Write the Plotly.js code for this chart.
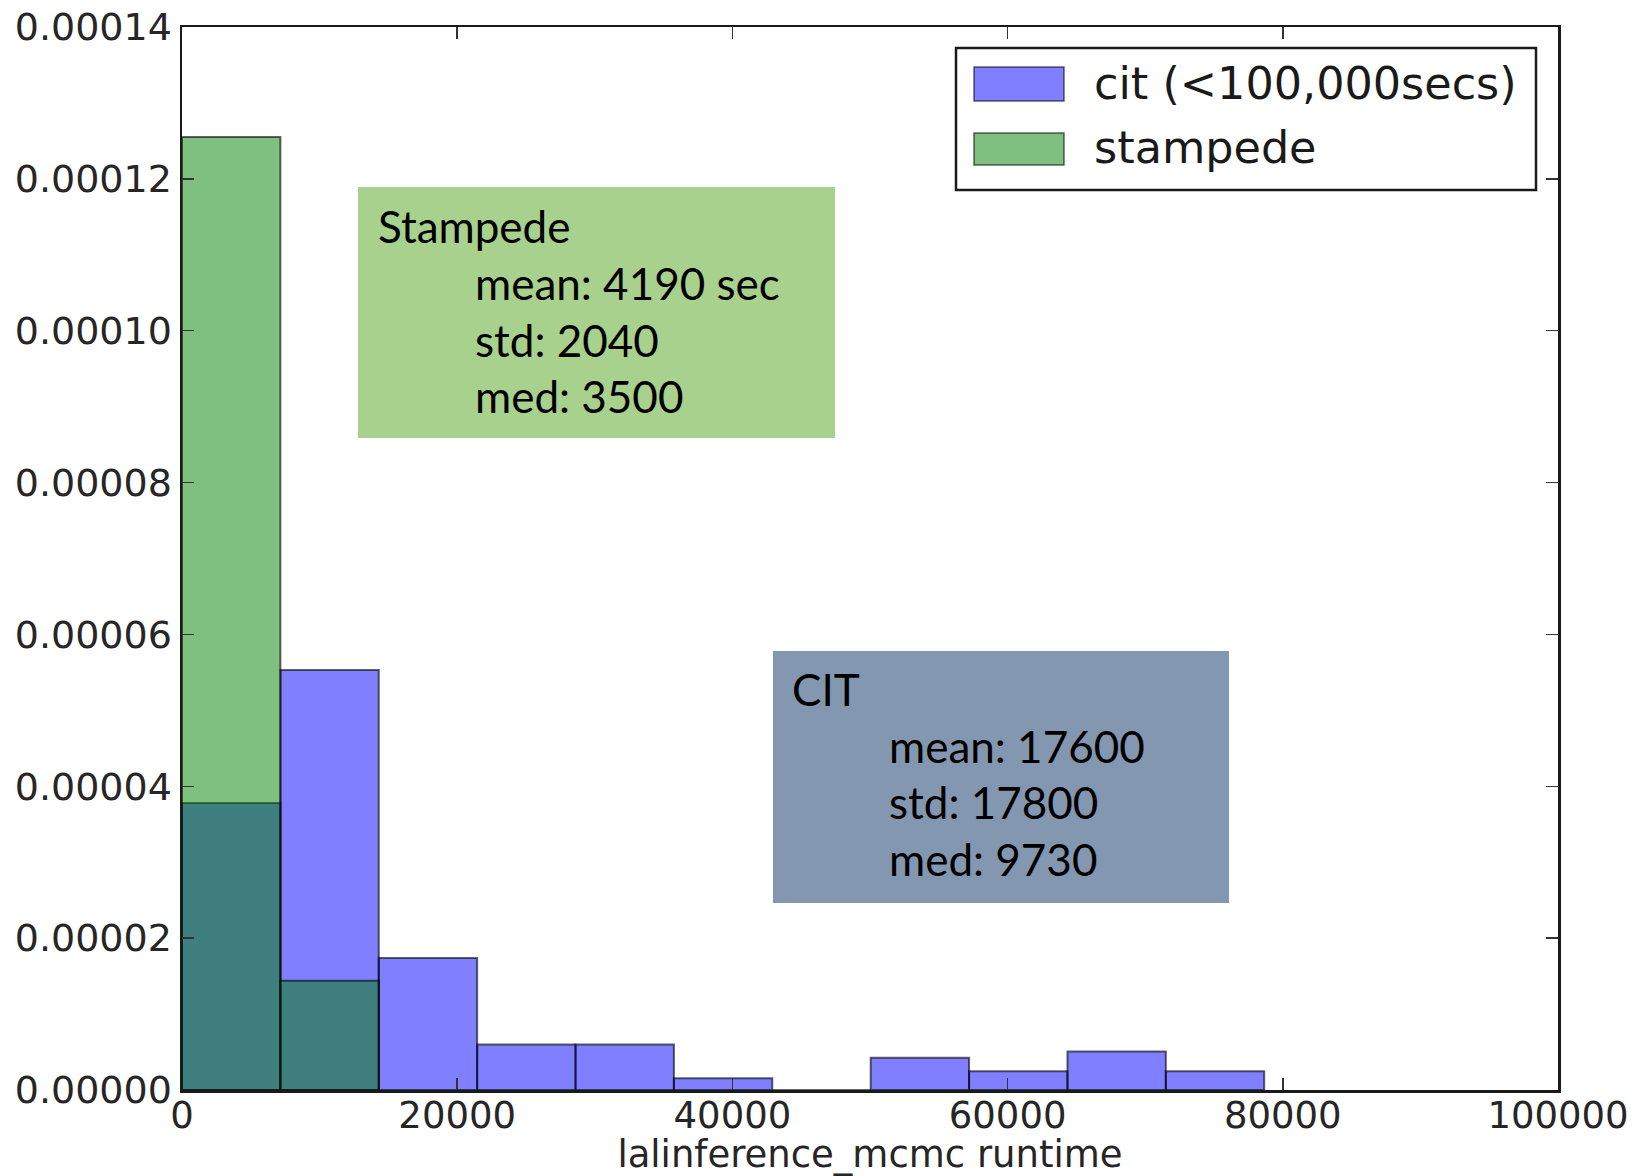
<!DOCTYPE html>
<html>
<head>
<meta charset="utf-8">
<script src="https://cdn.plot.ly/plotly-3.0.1.min.js"></script>
<style>
  html, body { margin: 0; padding: 0; background: #ffffff; }
  #chart { width: 1641px; height: 1176px; }
</style>
</head>
<body>
<div id="chart"></div>
<script>
// Histogram bin edges (seconds), shared by both clusters
const binEdges = [0, 7150, 14300, 21450, 28600, 35750, 42900, 50050, 57200, 64350, 71500, 78650];

// Normalised densities per bin
const citDensity = [3.78e-5, 5.53e-5, 1.74e-5, 6.0e-6, 6.0e-6, 1.55e-6, 0, 4.24e-6, 2.48e-6, 5.07e-6, 2.48e-6];
const stampedeDensity = [1.255e-4, 1.44e-5];

// Series names
const seriesNames = ['cit (<100,000secs)', 'stampede'];

// Summary statistics shown in the text boxes
const stampedeStats = ['Stampede', 'mean: 4190 sec', 'std: 2040', 'med: 3500'];
const citStats = ['CIT', 'mean: 17600', 'std: 17800', 'med: 9730'];

// Axis ticks
const xTicks = [0, 20000, 40000, 60000, 80000, 100000];
const yTicks = [0, 0.00002, 0.00004, 0.00006, 0.00008, 0.0001, 0.00012, 0.00014];
const xTitle = 'lalinference_mcmc runtime';

// Page geometry
const PAGE_W = 1641, PAGE_H = 1176;
const M = { l: 182, r: 83, t: 27, b: 86 };
const PW = PAGE_W - M.l - M.r, PH = PAGE_H - M.t - M.b;
const fx = p => (p - M.l) / PW;              // pixel x -> paper x
const fy = p => (PAGE_H - M.b - p) / PH;     // pixel y -> paper y

function binsFor(values) {
  const centers = [], widths = [];
  values.forEach((_, i) => {
    centers.push((binEdges[i] + binEdges[i + 1]) / 2);
    widths.push(binEdges[i + 1] - binEdges[i]);
  });
  return { centers, widths };
}

const citBins = binsFor(citDensity);
const stBins = binsFor(stampedeDensity);

const BLUE = 'rgba(0,0,255,0.5)';
const GREEN = 'rgba(0,128,0,0.5)';
const EDGE = 'rgba(0,0,0,0.6)';

const traces = [
  {
    type: 'bar', name: seriesNames[0],
    x: citBins.centers, y: citDensity, width: citBins.widths,
    marker: { color: BLUE, line: { color: EDGE, width: 2 } },
    showlegend: false, hoverinfo: 'x+y'
  },
  {
    type: 'bar', name: seriesNames[1],
    x: stBins.centers, y: stampedeDensity, width: stBins.widths,
    marker: { color: GREEN, line: { color: EDGE, width: 2 } },
    showlegend: false, hoverinfo: 'x+y'
  }
];

const xTickFont = { family: 'DejaVu Sans', size: 37, color: '#262626' };
const yTickFont = { family: 'DejaVu Sans', size: 38, color: '#262626' };
const boxFont = { family: 'Lato', size: 44, color: '#000000' };

const shapes = [];
const annotations = [];

// Legend frame and swatches
shapes.push({ type: 'rect', xref: 'paper', yref: 'paper',
  x0: fx(956), x1: fx(1536), y0: fy(190), y1: fy(48),
  line: { color: '#1a1a1a', width: 2.5 }, fillcolor: '#ffffff' });
[[BLUE, 67, 101], [GREEN, 133, 165]].forEach(([c, top, bot]) => {
  shapes.push({ type: 'rect', xref: 'paper', yref: 'paper',
    x0: fx(974), x1: fx(1064), y0: fy(bot), y1: fy(top),
    line: { color: EDGE, width: 1.5 }, fillcolor: c });
});
[[seriesNames[0], 84], [seriesNames[1], 148]].forEach(([t, cy]) => {
  annotations.push({ xref: 'paper', yref: 'paper', x: fx(1092), y: fy(cy),
    xanchor: 'left', yanchor: 'middle', showarrow: false, text: t,
    font: { family: 'DejaVu Sans', size: 44.5, color: '#1a1a1a' } });
});

// Statistic boxes
function statBox(lines, x0, x1, y0, y1, fill, textX, indentX, centers) {
  shapes.push({ type: 'rect', xref: 'paper', yref: 'paper',
    x0: fx(x0), x1: fx(x1), y0: fy(y1), y1: fy(y0),
    line: { width: 0 }, fillcolor: fill });
  lines.forEach((t, i) => {
    annotations.push({ xref: 'paper', yref: 'paper',
      x: fx(i === 0 ? textX : indentX), y: fy(centers[i]),
      xanchor: 'left', yanchor: 'middle', showarrow: false, text: t, font: boxFont });
  });
}
statBox(stampedeStats, 358, 835, 187, 438, '#a9d18e', 376, 473, [226, 283, 340, 396]);
statBox(citStats, 773, 1229, 651, 903, '#8497b0', 790, 887, [689, 746, 802, 859]);

const layout = {
  width: PAGE_W, height: PAGE_H,
  margin: M,
  paper_bgcolor: '#ffffff', plot_bgcolor: '#ffffff',
  barmode: 'overlay', bargap: 0,
  showlegend: false,
  xaxis: {
    range: [0, 100000], tickvals: xTicks, ticktext: xTicks.map(v => String(v)),
    showgrid: false, zeroline: false,
    showline: true, linecolor: '#1a1a1a', linewidth: 2.5, mirror: 'ticks',
    ticks: 'inside', ticklen: 12, tickwidth: 1.5, tickcolor: '#333333',
    tickfont: xTickFont, ticklabelstandoff: -9,
    title: { text: xTitle, font: xTickFont, standoff: 7 }
  },
  yaxis: {
    range: [0, 0.00014], tickvals: yTicks, ticktext: yTicks.map(v => v.toFixed(5)),
    showgrid: false, zeroline: false,
    showline: true, linecolor: '#1a1a1a', linewidth: 2.5, mirror: 'ticks',
    ticks: 'inside', ticklen: 12, tickwidth: 1.5, tickcolor: '#333333',
    tickfont: yTickFont
  },
  shapes: shapes,
  annotations: annotations
};

Plotly.newPlot('chart', traces, layout, { displayModeBar: false, staticPlot: true });
</script>
</body>
</html>
